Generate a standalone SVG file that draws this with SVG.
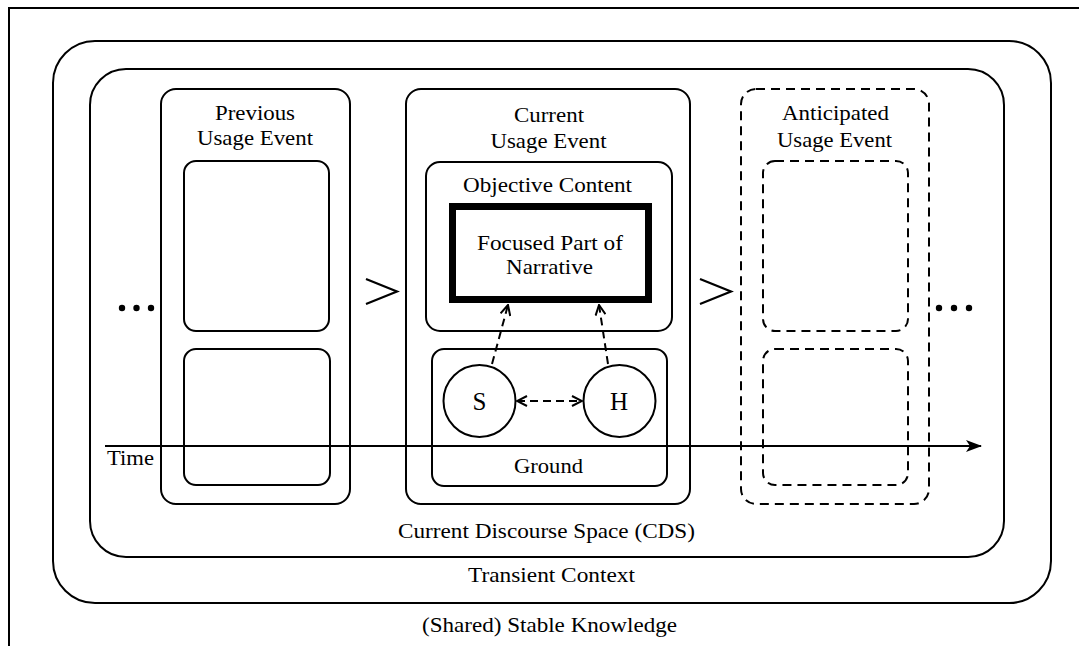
<svg xmlns="http://www.w3.org/2000/svg" width="1079" height="646" viewBox="0 0 1079 646">
  <style>
    .box { fill: none; stroke: #000; stroke-width: 2; }
    .dash { fill: none; stroke: #000; stroke-width: 2; stroke-dasharray: 9 6; }
    .focus { fill: none; stroke: #000; stroke-width: 7; }
    .lbl { font-family: "Liberation Serif", "Times New Roman", serif; font-size: 21px; fill: #000; text-anchor: middle; }
    .big { font-size: 25px; }
    .conn { fill: none; stroke: #000; stroke-width: 2; stroke-dasharray: 8 5; }
    .seq { fill: none; stroke: #000; stroke-width: 2.2; }
  </style>
  <defs>
    <marker id="open" viewBox="0 0 12 12" refX="11" refY="6" markerWidth="12" markerHeight="12" markerUnits="userSpaceOnUse" orient="auto-start-reverse">
      <path d="M1,1 L11,6 L1,11" fill="none" stroke="#000" stroke-width="2"/>
    </marker>
    <marker id="solid" viewBox="0 0 16 12" refX="15" refY="6" markerWidth="16" markerHeight="12" markerUnits="userSpaceOnUse" orient="auto">
      <path d="M0,0 L16,6 L0,12 L4,6 Z" fill="#000"/>
    </marker>
  </defs>

  <rect width="1079" height="646" fill="#fff"/>

  <!-- (Shared) Stable Knowledge frame -->
  <g id="stable-knowledge">
    <rect class="box" x="9" y="8" width="1100" height="700"/>
    <text class="lbl" x="549.5" y="632" textLength="255" lengthAdjust="spacingAndGlyphs">(Shared) Stable Knowledge</text>
  </g>

  <!-- Transient Context -->
  <g id="transient-context">
    <rect class="box" x="53" y="41" width="998" height="562" rx="42"/>
    <text class="lbl" x="551.5" y="582" textLength="167" lengthAdjust="spacingAndGlyphs">Transient Context</text>
  </g>

  <!-- Current Discourse Space -->
  <g id="cds">
    <rect class="box" x="90" y="69" width="914" height="488" rx="36"/>
    <text class="lbl" x="546.5" y="538" textLength="297" lengthAdjust="spacingAndGlyphs">Current Discourse Space (CDS)</text>
  </g>

  <!-- Previous Usage Event -->
  <g id="previous-usage-event">
    <rect class="box" x="161" y="89" width="189" height="415" rx="15"/>
    <text class="lbl" x="255" y="120" textLength="80" lengthAdjust="spacingAndGlyphs">Previous</text>
    <text class="lbl" x="255" y="145" textLength="116" lengthAdjust="spacingAndGlyphs">Usage Event</text>
    <rect class="box" x="184" y="161" width="145" height="170" rx="12"/>
    <rect class="box" x="184" y="349" width="146" height="136" rx="12"/>
  </g>

  <!-- Current Usage Event -->
  <g id="current-usage-event">
    <rect class="box" x="406" y="89" width="284" height="415" rx="15"/>
    <text class="lbl" x="549" y="122" textLength="70" lengthAdjust="spacingAndGlyphs">Current</text>
    <text class="lbl" x="548.5" y="148" textLength="116" lengthAdjust="spacingAndGlyphs">Usage Event</text>
  </g>

  <g id="objective-content">
    <rect class="box" x="426" y="162" width="246" height="169" rx="14"/>
    <text class="lbl" x="547.5" y="192" textLength="169" lengthAdjust="spacingAndGlyphs">Objective Content</text>
  </g>

  <g id="focused-part">
    <rect class="focus" x="452.5" y="206.5" width="196" height="93"/>
    <text class="lbl" x="550" y="250" textLength="146" lengthAdjust="spacingAndGlyphs">Focused Part of</text>
    <text class="lbl" x="549.5" y="274" textLength="87" lengthAdjust="spacingAndGlyphs">Narrative</text>
  </g>

  <g id="ground">
    <rect class="box" x="432" y="349" width="235" height="137" rx="12"/>
    <text class="lbl" x="548.5" y="473" textLength="69" lengthAdjust="spacingAndGlyphs">Ground</text>
  </g>

  <g id="speaker">
    <circle class="box" cx="479.5" cy="401" r="36" fill="#fff"/>
    <text class="lbl big" x="479.5" y="410">S</text>
  </g>

  <g id="hearer">
    <circle class="box" cx="619.5" cy="401" r="36" fill="#fff"/>
    <text class="lbl big" x="619" y="410">H</text>
  </g>

  <!-- Anticipated Usage Event -->
  <g id="anticipated-usage-event">
    <rect class="dash" x="741" y="89" width="188" height="415" rx="15"/>
    <text class="lbl" x="835.5" y="120" textLength="107" lengthAdjust="spacingAndGlyphs">Anticipated</text>
    <text class="lbl" x="834.5" y="147" textLength="115" lengthAdjust="spacingAndGlyphs">Usage Event</text>
    <rect class="dash" x="763" y="161" width="145" height="170" rx="12"/>
    <rect class="dash" x="763" y="349" width="145" height="136" rx="12"/>
  </g>

  <!-- Continuation dots -->
  <g id="ellipsis-left">
    <circle cx="122" cy="308" r="3.2"/>
    <circle cx="136.5" cy="308" r="3.2"/>
    <circle cx="151" cy="308" r="3.2"/>
  </g>
  <g id="ellipsis-right">
    <circle cx="939" cy="308" r="3.2"/>
    <circle cx="954" cy="308" r="3.2"/>
    <circle cx="969" cy="308" r="3.2"/>
  </g>

  <!-- Connectors -->
  <g id="connectors">
    <polyline class="seq" points="366,279 397,291.5 366,304"/>
    <polyline class="seq" points="700,279 731,291.5 700,304"/>
    <line class="conn" x1="492" y1="364" x2="508" y2="305" marker-end="url(#open)"/>
    <line class="conn" x1="608" y1="364" x2="599" y2="305" marker-end="url(#open)"/>
    <line class="conn" x1="517" y1="401" x2="582" y2="401" marker-start="url(#open)" marker-end="url(#open)"/>
    <line x1="105" y1="446" x2="981" y2="446" stroke="#000" stroke-width="2" marker-end="url(#solid)"/>
  </g>

  <g id="time-label">
    <text class="lbl" x="130.5" y="465" textLength="47" lengthAdjust="spacingAndGlyphs">Time</text>
  </g>
</svg>
